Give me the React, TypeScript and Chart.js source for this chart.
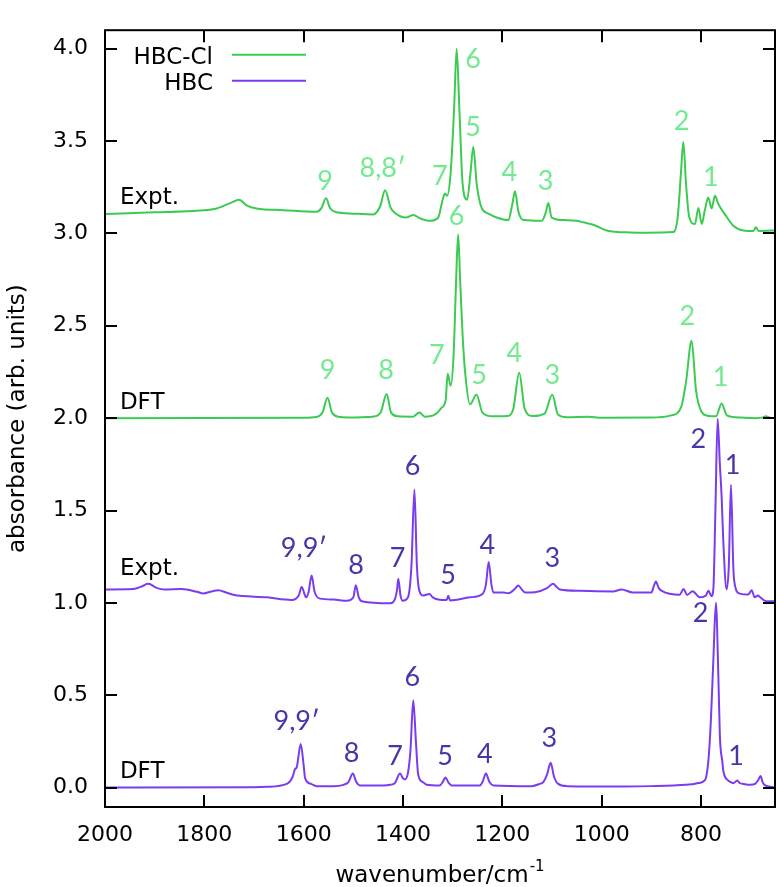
import React, { useEffect, useRef } from "react";
import { Chart, registerables } from "chart.js";

Chart.register(...registerables);

// ---------- axis ticks ----------
const xTickValues = [2000, 1800, 1600, 1400, 1200, 1000, 800];
const yTickValues = [0.0, 0.5, 1.0, 1.5, 2.0, 2.5, 3.0, 3.5, 4.0];
const xTitle = "wavenumber/cm";
const xTitleSup = "-1";
const yTitle = "absorbance (arb. units)";

// ---------- HBC-Cl, experiment (offset ~3.0) ----------
const hbcClExptWn = [2000, 1900, 1809, 1775, 1748, 1730, 1715, 1695, 1641, 1574, 1564, 1555, 1547, 1537, 1500, 1460, 1446, 1436, 1425, 1418, 1393, 1379, 1366, 1346, 1329, 1321, 1315.5, 1311, 1304, 1297, 1292, 1286.6, 1280, 1271, 1264, 1258.5, 1251.7, 1241.6, 1228, 1211.4, 1188, 1180, 1174.5, 1167.8, 1157.7, 1120.7, 1112.7, 1107.4, 1100.7, 1073.8, 1050.3, 1037, 1017, 990, 943, 909.5, 855.8, 847, 840.3, 835.6, 830.2, 823.5, 812, 805.3, 798.6, 792, 785.3, 778.6, 771.9, 765.2, 751.8, 735, 714.9, 694.8, 689.4, 684, 654.5, 651];
const hbcClExptAbs = [3.105, 3.114, 3.124, 3.135, 3.164, 3.182, 3.152, 3.135, 3.126, 3.117, 3.138, 3.190, 3.138, 3.117, 3.107, 3.103, 3.147, 3.234, 3.140, 3.115, 3.086, 3.100, 3.082, 3.068, 3.086, 3.173, 3.216, 3.204, 3.330, 3.680, 4.000, 3.680, 3.270, 3.182, 3.330, 3.469, 3.270, 3.138, 3.107, 3.086, 3.072, 3.156, 3.228, 3.120, 3.072, 3.068, 3.112, 3.164, 3.086, 3.072, 3.068, 3.060, 3.047, 3.016, 3.005, 3.004, 3.007, 3.086, 3.330, 3.495, 3.270, 3.086, 3.051, 3.138, 3.051, 3.129, 3.194, 3.135, 3.204, 3.160, 3.103, 3.042, 3.016, 3.013, 3.033, 3.013, 3.016, 3.016];

// ---------- HBC-Cl, DFT (offset 2.0) ----------
const hbcClDftWn = [2000, 1600, 1575, 1562, 1552, 1543, 1530, 1510, 1460, 1445, 1433, 1424, 1410, 1380, 1367, 1356, 1335, 1322, 1314, 1310, 1304, 1298, 1293, 1289, 1285, 1280, 1275, 1265, 1252, 1240, 1220, 1190, 1178, 1166, 1155, 1140, 1115, 1099.5, 1088, 1070, 1027, 1000, 900, 860, 840, 830, 819, 810, 800, 785, 770, 758.5, 748, 720, 690, 675, 670, 660, 651];
const hbcClDftAbs = [2.000, 2.002, 2.006, 2.030, 2.110, 2.030, 2.008, 2.004, 2.008, 2.030, 2.131, 2.030, 2.010, 2.008, 2.031, 2.008, 2.020, 2.057, 2.100, 2.240, 2.175, 2.350, 2.750, 2.995, 2.750, 2.450, 2.250, 2.075, 2.126, 2.030, 2.010, 2.012, 2.050, 2.246, 2.050, 2.012, 2.025, 2.126, 2.020, 2.005, 2.008, 2.002, 2.003, 2.015, 2.060, 2.200, 2.419, 2.150, 2.040, 2.012, 2.010, 2.079, 2.015, 2.003, 2.000, 2.004, 2.010, 2.002, 2.000];

// ---------- HBC, experiment (offset ~1.0) ----------
const hbcExptWn = [2000, 1943, 1925, 1913, 1895, 1880, 1846, 1815, 1802, 1785, 1772, 1755, 1742, 1674, 1624, 1610, 1604, 1595, 1590, 1584, 1578, 1567, 1540, 1513, 1500, 1495, 1489, 1483, 1426, 1418, 1412, 1409.5, 1405, 1400.6, 1390, 1383, 1377, 1372, 1367, 1359, 1347, 1340, 1329, 1312, 1309, 1305, 1265, 1240, 1233, 1227.5, 1222, 1218, 1198, 1188, 1175, 1168, 1160, 1154, 1134, 1110, 1098, 1090, 1084, 1044, 977, 960, 937, 900, 895, 891, 885, 879, 843, 835, 828, 817, 802, 790, 785, 779, 775, 771, 766.5, 762, 758.4, 755, 748.5, 744, 739.7, 735, 733, 722, 705, 698, 692, 685, 681.5, 668, 651];
const hbcExptAbs = [1.073, 1.075, 1.090, 1.103, 1.080, 1.073, 1.075, 1.060, 1.051, 1.062, 1.068, 1.055, 1.044, 1.030, 1.016, 1.040, 1.086, 1.030, 1.060, 1.148, 1.060, 1.023, 1.018, 1.011, 1.030, 1.096, 1.030, 1.009, 0.998, 1.010, 1.070, 1.131, 1.040, 1.011, 1.030, 1.200, 1.614, 1.200, 1.065, 1.040, 1.048, 1.030, 1.018, 1.015, 1.038, 1.013, 1.030, 1.048, 1.100, 1.221, 1.100, 1.056, 1.056, 1.052, 1.075, 1.094, 1.070, 1.056, 1.058, 1.080, 1.103, 1.085, 1.072, 1.065, 1.062, 1.072, 1.056, 1.056, 1.090, 1.116, 1.080, 1.065, 1.044, 1.075, 1.043, 1.063, 1.030, 1.040, 1.066, 1.036, 1.080, 1.500, 1.997, 1.750, 1.570, 1.327, 1.073, 1.200, 1.640, 1.200, 1.116, 1.050, 1.045, 1.068, 1.030, 1.040, 1.032, 1.009, 1.009];

// ---------- HBC, DFT (offset 0) ----------
const hbcDftWn = [2000, 1700, 1674, 1634, 1622, 1617.5, 1614, 1606, 1600, 1597, 1585, 1574, 1540, 1520, 1510, 1501, 1494, 1487, 1440, 1426, 1416, 1406, 1400, 1396, 1390, 1385, 1379.4, 1374, 1369.4, 1360, 1352.6, 1326, 1320, 1314.6, 1308, 1302, 1245, 1240, 1233, 1226, 1218, 1141, 1125, 1117.6, 1110, 1102.7, 1096, 1087.5, 1070, 953, 900, 830, 819, 805, 792, 785, 780, 775, 770, 765, 762, 757, 755, 745, 740, 735, 727, 722, 714.6, 700, 691, 685, 680, 676, 671, 660, 651];
const hbcDftAbs = [0.000, 0.002, 0.004, 0.020, 0.060, 0.100, 0.110, 0.236, 0.120, 0.050, 0.020, 0.008, 0.008, 0.015, 0.030, 0.076, 0.030, 0.012, 0.012, 0.015, 0.026, 0.076, 0.050, 0.045, 0.080, 0.200, 0.473, 0.250, 0.070, 0.030, 0.016, 0.012, 0.030, 0.055, 0.025, 0.012, 0.012, 0.030, 0.076, 0.030, 0.012, 0.008, 0.020, 0.030, 0.070, 0.134, 0.060, 0.020, 0.008, 0.006, 0.008, 0.015, 0.018, 0.025, 0.040, 0.150, 0.370, 0.700, 1.000, 0.600, 0.280, 0.140, 0.090, 0.038, 0.030, 0.024, 0.038, 0.025, 0.020, 0.015, 0.020, 0.040, 0.063, 0.030, 0.012, 0.005, 0.000];

// ---------- peak annotations: [text, wavenumber, baseline absorbance] ----------
const hbcClPeakLabels: [string, number, number][] = [
  ["9", 1557, 3.235], ["8,8\u2032", 1441, 3.305], ["7", 1326, 3.261], ["6", 1259, 3.897],
  ["5", 1259, 3.526], ["4", 1186, 3.282], ["3", 1112.7, 3.235], ["2", 838.9, 3.561], ["1", 780, 3.257],
  ["6", 1292, 3.048], ["9", 1551.6, 2.21], ["8", 1434, 2.21], ["7", 1332, 2.294], ["5", 1247, 2.184],
  ["4", 1176, 2.302], ["3", 1099.5, 2.184], ["2", 827.7, 2.503], ["1", 760.4, 2.172],
];
const hbcPeakLabels: [string, number, number][] = [
  ["9,9\u2032", 1599.3, 1.248], ["8", 1494.7, 1.156], ["7", 1411, 1.196], ["6", 1380.5, 1.693],
  ["5", 1309, 1.1], ["4", 1230, 1.265], ["3", 1099.5, 1.196], ["2", 805.5, 1.841], ["1", 736.2, 1.696],
  ["2", 800.8, 0.894], ["9,9\u2032", 1614, 0.312], ["8", 1503.4, 0.141], ["7", 1416, 0.124],
  ["6", 1381.3, 0.551], ["5", 1315.5, 0.124], ["4", 1235, 0.132], ["3", 1105.5, 0.22], ["1", 729.6, 0.124],
];
const traceLabels: [string, number, number][] = [
  ["Expt.", 1970, 3.157], ["DFT", 1970, 2.05], ["Expt.", 1970, 1.152], ["DFT", 1970, 0.051],
];
const legendNames = ["HBC-Cl", "HBC"];

// ---------- styles ----------
const GREEN_LINE = "#3ccb52";
const GREEN_TEXT = "#74ea90";
const PURPLE_LINE = "#7a3cf0";
const PURPLE_TEXT = "#4a35a8";
const SANS = '"DejaVu Sans", sans-serif';
const LABEL_FONT = 'Lato, "Open Sans", sans-serif';

const toPts = (wn: number[], ab: number[]) => wn.map((x, i) => ({ x, y: ab[i] }));

const decorPlugin = {
  id: "decor",
  afterDraw(chart: any) {
    const { ctx, chartArea: a, scales } = chart;
    const xs = scales.x;
    const ys = scales.y;
    ctx.save();
    // frame
    ctx.strokeStyle = "#000";
    ctx.lineWidth = 2;
    ctx.strokeRect(a.left, a.top, a.right - a.left, a.bottom - a.top);
    // inward ticks, mirrored
    ctx.beginPath();
    for (const v of xTickValues) {
      const px = Math.round(xs.getPixelForValue(v));
      ctx.moveTo(px, a.bottom);
      ctx.lineTo(px, a.bottom - 12);
      ctx.moveTo(px, a.top);
      ctx.lineTo(px, a.top + 12);
    }
    for (const v of yTickValues) {
      const py = Math.round(ys.getPixelForValue(v));
      ctx.moveTo(a.left, py);
      ctx.lineTo(a.left + 12, py);
      ctx.moveTo(a.right, py);
      ctx.lineTo(a.right - 12, py);
    }
    ctx.stroke();

    // peak labels
    ctx.textAlign = "center";
    ctx.textBaseline = "alphabetic";
    ctx.font = `27px ${LABEL_FONT}`;
    ctx.fillStyle = GREEN_TEXT;
    for (const [t, w, v] of hbcClPeakLabels) ctx.fillText(t, xs.getPixelForValue(w), ys.getPixelForValue(v));
    ctx.fillStyle = PURPLE_TEXT;
    for (const [t, w, v] of hbcPeakLabels) ctx.fillText(t, xs.getPixelForValue(w), ys.getPixelForValue(v));

    // trace labels
    ctx.textAlign = "left";
    ctx.font = `23px ${SANS}`;
    ctx.fillStyle = "#000";
    for (const [t, w, v] of traceLabels) ctx.fillText(t, xs.getPixelForValue(w), ys.getPixelForValue(v));

    // legend
    const colors = [GREEN_LINE, PURPLE_LINE];
    legendNames.forEach((name, i) => {
      const base = a.top + 33.5 + i * 26;
      ctx.textAlign = "right";
      ctx.fillStyle = "#000";
      ctx.font = `23px ${SANS}`;
      ctx.fillText(name, a.left + 108, base);
      ctx.strokeStyle = colors[i];
      ctx.lineWidth = 2;
      ctx.beginPath();
      ctx.moveTo(a.left + 127, base - 9);
      ctx.lineTo(a.left + 201, base - 9);
      ctx.stroke();
    });

    // x title with superscript
    ctx.fillStyle = "#000";
    ctx.font = `23px ${SANS}`;
    const w1 = ctx.measureText(xTitle).width;
    ctx.font = `15px ${SANS}`;
    const w2 = ctx.measureText(xTitleSup).width;
    const cx = (a.left + a.right) / 2;
    const start = cx - (w1 + w2 + 1) / 2;
    ctx.textAlign = "left";
    ctx.font = `23px ${SANS}`;
    ctx.fillText(xTitle, start, 882);
    ctx.font = `15px ${SANS}`;
    ctx.fillText(xTitleSup, start + w1 + 1, 871);

    // y title
    ctx.font = `23px ${SANS}`;
    ctx.translate(24, (a.top + a.bottom) / 2);
    ctx.rotate(-Math.PI / 2);
    ctx.textAlign = "center";
    ctx.fillText(yTitle, 0, 0);
    ctx.restore();
  },
};

export default function App() {
  const ref = useRef<HTMLCanvasElement>(null);
  useEffect(() => {
    if (!ref.current) return;
    const line = (data: any, color: string) => ({
      data,
      borderColor: color,
      backgroundColor: color,
      borderWidth: 2,
      pointRadius: 0,
      cubicInterpolationMode: "monotone" as const,
      fill: false,
      borderJoinStyle: "round" as const,
    });
    const chart = new Chart(ref.current, {
      type: "line",
      data: {
        datasets: [
          { label: "HBC-Cl Expt.", ...line(toPts(hbcClExptWn, hbcClExptAbs), GREEN_LINE) },
          { label: "HBC-Cl DFT", ...line(toPts(hbcClDftWn, hbcClDftAbs), GREEN_LINE) },
          { label: "HBC Expt.", ...line(toPts(hbcExptWn, hbcExptAbs), PURPLE_LINE) },
          { label: "HBC DFT", ...line(toPts(hbcDftWn, hbcDftAbs), PURPLE_LINE) },
        ],
      },
      options: {
        responsive: false,
        animation: false,
        devicePixelRatio: 1,
        layout: { padding: { top: 3, right: 4, left: 0, bottom: 0 } },
        plugins: { legend: { display: false }, tooltip: { enabled: false } },
        scales: {
          x: {
            type: "linear",
            reverse: true,
            min: 651,
            max: 2000,
            afterBuildTicks: (s: any) => {
              s.ticks = xTickValues.map((v) => ({ value: v }));
            },
            afterFit: (s: any) => {
              s.height = 80;
            },
            ticks: {
              autoSkip: false,
              maxRotation: 0,
              padding: 15,
              color: "#000",
              font: { family: SANS, size: 22 },
              callback: (v: any) => String(v),
            },
            grid: { display: false, drawTicks: false },
            border: { display: false },
          },
          y: {
            type: "linear",
            min: -0.105,
            max: 4.1,
            afterBuildTicks: (s: any) => {
              s.ticks = yTickValues.map((v) => ({ value: v }));
            },
            afterFit: (s: any) => {
              s.width = 105;
            },
            ticks: {
              autoSkip: false,
              padding: 17,
              color: "#000",
              font: { family: SANS, size: 22 },
              callback: (v: any) => Number(v).toFixed(1),
            },
            grid: { display: false, drawTicks: false },
            border: { display: false },
          },
        },
      },
      plugins: [decorPlugin],
    });
    return () => chart.destroy();
  }, []);
  return (
    <div style={{ position: "absolute", left: 0, top: 0, width: 779, height: 887, background: "#fff" }}>
      <canvas ref={ref} width={779} height={887} style={{ display: "block" }} />
    </div>
  );
}
